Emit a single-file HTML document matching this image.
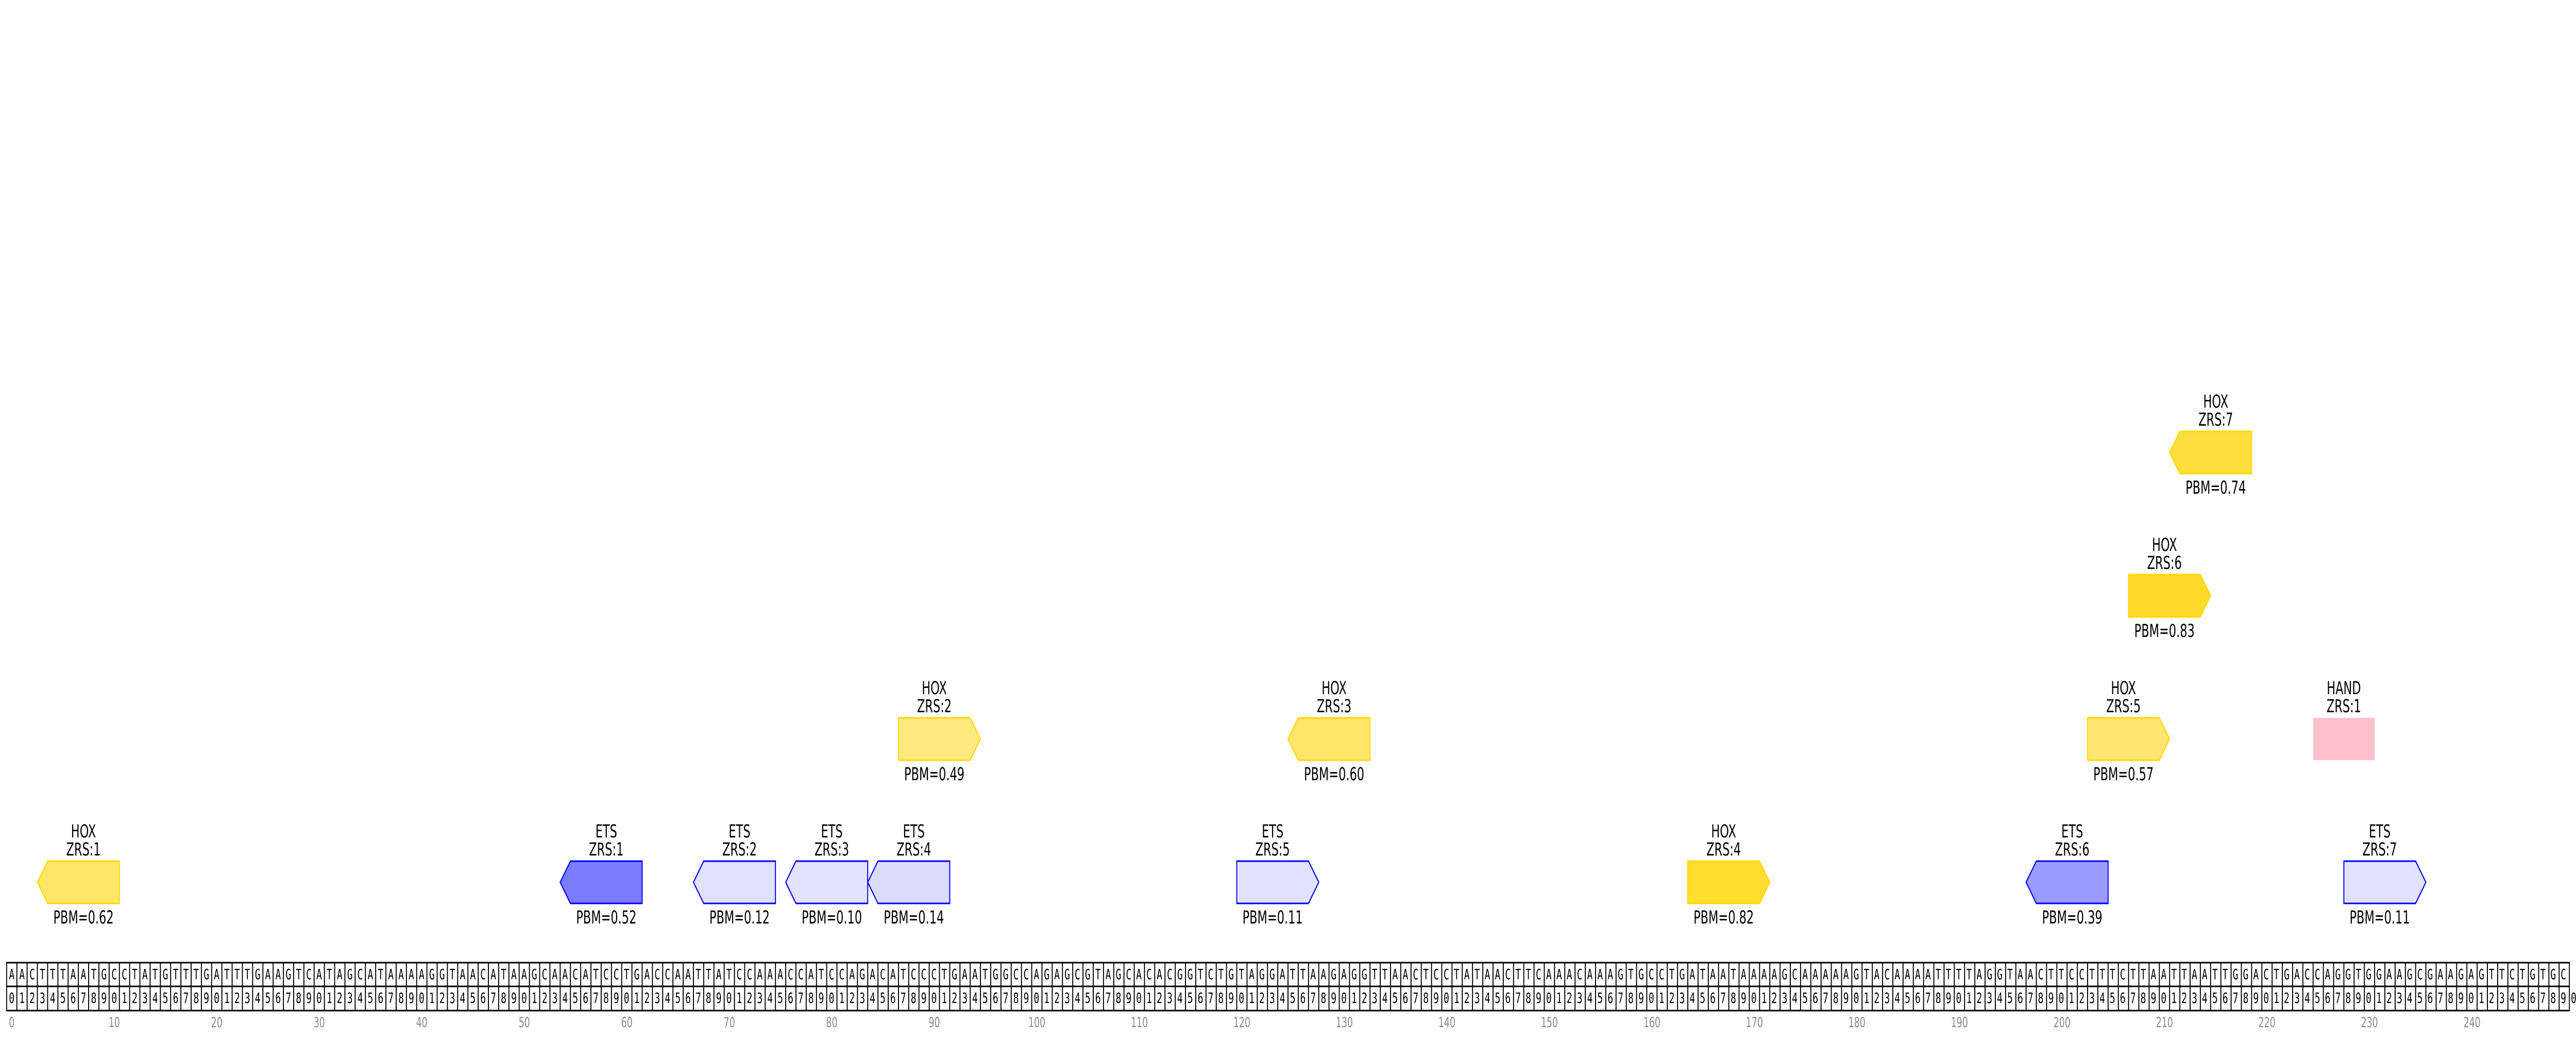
<!DOCTYPE html>
<html><head><meta charset="utf-8"><style>
html,body{margin:0;padding:0;background:#fff;width:100%;height:100%;overflow:hidden;}
svg{position:absolute;left:0;top:0;display:block;width:100%;height:100%;}
</style></head><body>
<svg viewBox="0 0 7790 2020" preserveAspectRatio="none" xmlns="http://www.w3.org/2000/svg" font-family="DejaVu Sans, Liberation Sans, sans-serif">
<defs>
<pattern id="vl" patternUnits="userSpaceOnUse" x="18.5" y="0" width="31" height="2020">
<rect x="0" y="0" width="3" height="2020" fill="#000"/>
</pattern>
</defs>
<rect x="0" y="0" width="7790" height="2020" fill="#fff"/>
<rect x="18.5" y="1866.5" width="7753" height="96" fill="url(#vl)"/>
<rect x="18.5" y="1866.5" width="7753" height="3" fill="#000"/>
<rect x="18.5" y="1912.5" width="7753" height="3" fill="#000"/>
<rect x="18.5" y="1959.5" width="7753" height="3" fill="#000"/>
<g font-family="DejaVu Sans Mono, Liberation Mono, monospace" font-size="28" letter-spacing="14.14" fill="#000">
<text x="27" y="1900">AACTTTAATGCCTATGTTTGATTTGAAGTCATAGCATAAAAGGTAACATAAGCAACATCCTGACCAATTATCCAAACCATCCAGACATCCCTGAATGGCCAGAGCGTAGCACACGGTCTGTAGGATTAAGAGGTTAACTCCTATAACTTCAAACAAAGTGCCTGATAATAAAAGCAAAAAGTACAAAATTTTAGGTAACTTCCTTTCTTAATTAATTGGACTGACCAGGTGGAAGCGAAGAGTTCTGTGC</text>
<text x="27" y="1946">01234567890123456789012345678901234567890123456789012345678901234567890123456789012345678901234567890123456789012345678901234567890123456789012345678901234567890123456789012345678901234567890123456789012345678901234567890123456789012345678901234567890123456789</text>
</g>
<g fill="#888" font-size="27" text-anchor="middle">
<text x="35.5" y="1993">0</text><text x="345.5" y="1993">10</text><text x="655.5" y="1993">20</text><text x="965.5" y="1993">30</text><text x="1275.5" y="1993">40</text><text x="1585.5" y="1993">50</text><text x="1895.5" y="1993">60</text><text x="2205.5" y="1993">70</text><text x="2515.5" y="1993">80</text><text x="2825.5" y="1993">90</text><text x="3135.5" y="1993">100</text><text x="3445.5" y="1993">110</text><text x="3755.5" y="1993">120</text><text x="4065.5" y="1993">130</text><text x="4375.5" y="1993">140</text><text x="4685.5" y="1993">150</text><text x="4995.5" y="1993">160</text><text x="5305.5" y="1993">170</text><text x="5615.5" y="1993">180</text><text x="5925.5" y="1993">190</text><text x="6235.5" y="1993">200</text><text x="6545.5" y="1993">210</text><text x="6855.5" y="1993">220</text><text x="7165.5" y="1993">230</text><text x="7475.5" y="1993">240</text>
</g>
<g stroke-width="3" stroke-linejoin="miter">
<polygon points="113,1712 144,1671 361,1671 361,1753 144,1753" fill="#ffe566" stroke="#ffd700"/>
<polygon points="1694,1712 1725,1671 1942,1671 1942,1753 1725,1753" fill="#7b7bff" stroke="#0000ff"/>
<polygon points="2097,1712 2128,1671 2345,1671 2345,1753 2128,1753" fill="#e0e0ff" stroke="#0000ff"/>
<polygon points="2376,1712 2407,1671 2624,1671 2624,1753 2407,1753" fill="#e3e3ff" stroke="#0000ff"/>
<polygon points="2624,1712 2655,1671 2872,1671 2872,1753 2655,1753" fill="#dcdcff" stroke="#0000ff"/>
<polygon points="3740,1671 3957,1671 3988,1712 3957,1753 3740,1753" fill="#e2e2ff" stroke="#0000ff"/>
<polygon points="5104,1671 5321,1671 5352,1712 5321,1753 5104,1753" fill="#ffde2e" stroke="#ffd700"/>
<polygon points="6127,1712 6158,1671 6375,1671 6375,1753 6158,1753" fill="#9c9cff" stroke="#0000ff"/>
<polygon points="7088,1671 7305,1671 7336,1712 7305,1753 7088,1753" fill="#e2e2ff" stroke="#0000ff"/>
<polygon points="2717,1393 2934,1393 2965,1434 2934,1475 2717,1475" fill="#ffe97f" stroke="#ffd700"/>
<polygon points="3895,1434 3926,1393 4143,1393 4143,1475 3926,1475" fill="#ffe56a" stroke="#ffd700"/>
<polygon points="6313,1393 6530,1393 6561,1434 6530,1475 6313,1475" fill="#ffe670" stroke="#ffd700"/>
<rect x="6995" y="1393" width="186" height="82" fill="#ffc0cb"/>
<polygon points="6437,1115 6654,1115 6685,1156 6654,1197 6437,1197" fill="#ffdb29" stroke="#ffd700"/>
<polygon points="6561,878 6592,837 6809,837 6809,919 6592,919" fill="#ffdf3d" stroke="#ffd700"/>
</g>
<g fill="#000" font-size="35" text-anchor="middle">
<text x="252.5" y="1625">HOX</text><text x="252.5" y="1660">ZRS:1</text><text x="252.5" y="1792">PBM=0.62</text>
<text x="1833.5" y="1625">ETS</text><text x="1833.5" y="1660">ZRS:1</text><text x="1833.5" y="1792">PBM=0.52</text>
<text x="2236.5" y="1625">ETS</text><text x="2236.5" y="1660">ZRS:2</text><text x="2236.5" y="1792">PBM=0.12</text>
<text x="2515.5" y="1625">ETS</text><text x="2515.5" y="1660">ZRS:3</text><text x="2515.5" y="1792">PBM=0.10</text>
<text x="2763.5" y="1625">ETS</text><text x="2763.5" y="1660">ZRS:4</text><text x="2763.5" y="1792">PBM=0.14</text>
<text x="3848.5" y="1625">ETS</text><text x="3848.5" y="1660">ZRS:5</text><text x="3848.5" y="1792">PBM=0.11</text>
<text x="5212.5" y="1625">HOX</text><text x="5212.5" y="1660">ZRS:4</text><text x="5212.5" y="1792">PBM=0.82</text>
<text x="6266.5" y="1625">ETS</text><text x="6266.5" y="1660">ZRS:6</text><text x="6266.5" y="1792">PBM=0.39</text>
<text x="7196.5" y="1625">ETS</text><text x="7196.5" y="1660">ZRS:7</text><text x="7196.5" y="1792">PBM=0.11</text>
<text x="2825.5" y="1347">HOX</text><text x="2825.5" y="1382">ZRS:2</text><text x="2825.5" y="1514">PBM=0.49</text>
<text x="4034.5" y="1347">HOX</text><text x="4034.5" y="1382">ZRS:3</text><text x="4034.5" y="1514">PBM=0.60</text>
<text x="6421.5" y="1347">HOX</text><text x="6421.5" y="1382">ZRS:5</text><text x="6421.5" y="1514">PBM=0.57</text>
<text x="7088" y="1347">HAND</text><text x="7088" y="1382">ZRS:1</text>
<text x="6545.5" y="1069">HOX</text><text x="6545.5" y="1104">ZRS:6</text><text x="6545.5" y="1236">PBM=0.83</text>
<text x="6700.5" y="791">HOX</text><text x="6700.5" y="826">ZRS:7</text><text x="6700.5" y="958">PBM=0.74</text>
</g>
</svg>
</body></html>
